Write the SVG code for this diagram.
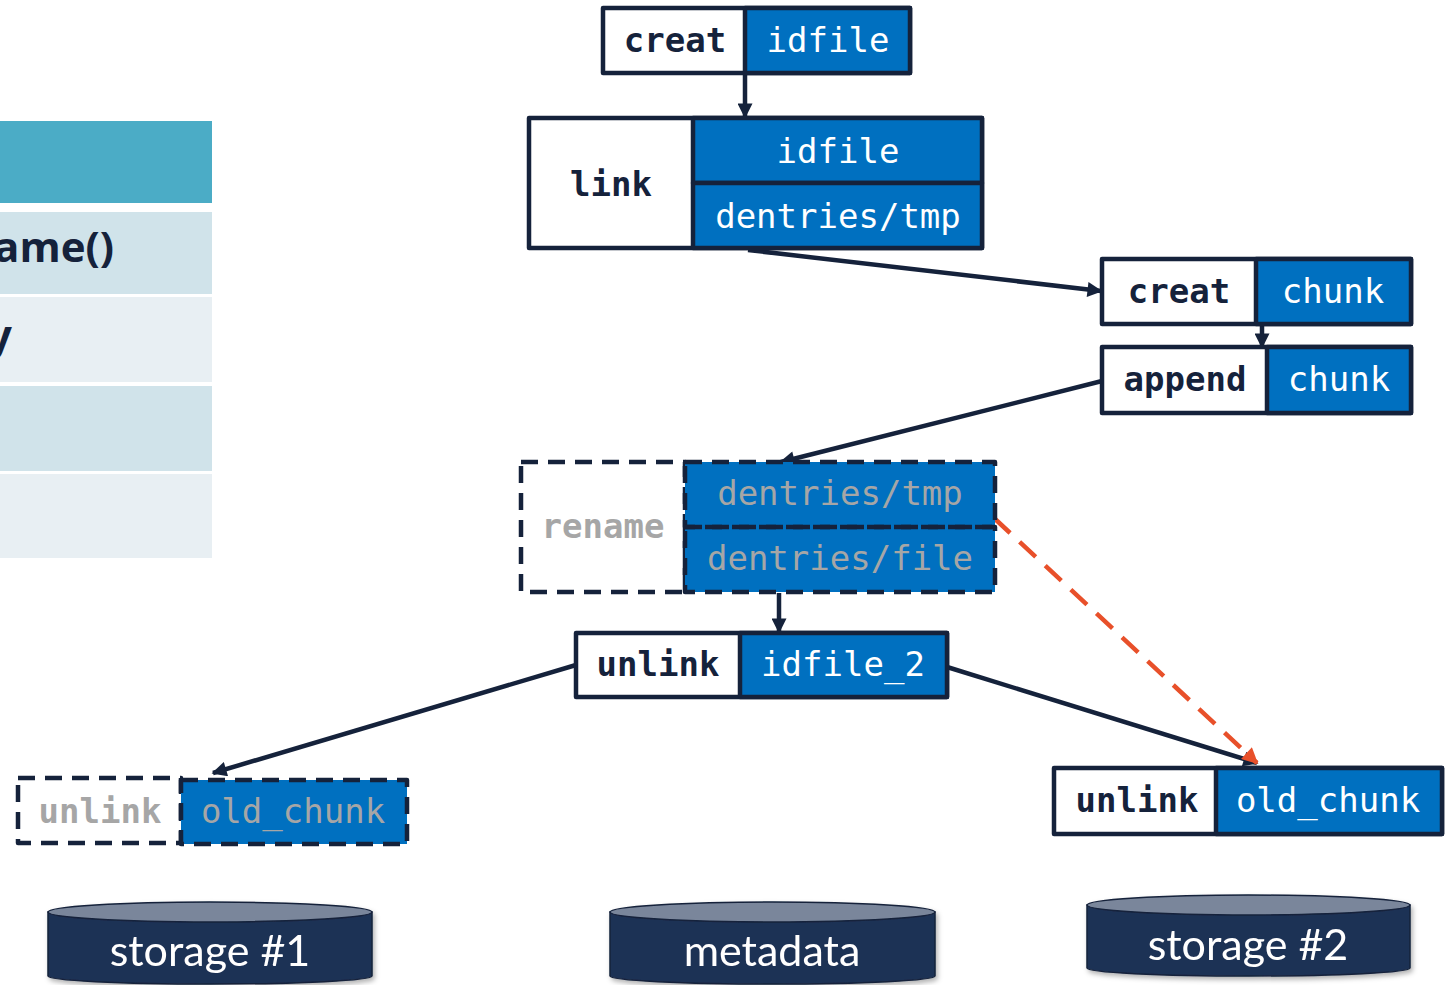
<svg xmlns="http://www.w3.org/2000/svg" width="1450" height="985" viewBox="0 0 1450 985">
  <style>
    .box { stroke: #15223B; stroke-width: 4.5; stroke-linejoin: round; }
    .white { fill: #FFFFFF; }
    .blue { fill: #0070C0; }
    .dash { stroke-dasharray: 17 10; fill: none; }
    .op { font-family: "DejaVu Sans Mono", "Liberation Mono", monospace; font-size: 34px; font-weight: bold; fill: #15223B; text-anchor: middle; }
    .arg { font-family: "DejaVu Sans Mono", "Liberation Mono", monospace; font-size: 34px; fill: #FFFFFF; text-anchor: middle; }
    .ghost { fill: #A6A6A6; }
    .conn { stroke: #15223B; stroke-width: 4.5; fill: none; }
    .red { stroke: #E8502A; stroke-width: 4.5; fill: none; stroke-dasharray: 22 13; }
    .cyl { fill: #1F3154; stroke: #15223B; stroke-width: 1.5; }
    .cyltop { fill: #7A869B; stroke: #15223B; stroke-width: 1.5; }
    .cyltext { font-family: Lato, "Open Sans", sans-serif; font-size: 43px; fill: #FFFFFF; text-anchor: middle; }
    .tbl { font-family: "Open Sans", Lato, sans-serif; font-size: 42px; font-weight: bold; fill: #15223B; text-anchor: end; }
  </style>
  <defs>
    <marker id="arrow" viewBox="0 0 10 10" refX="9" refY="5" markerUnits="userSpaceOnUse" markerWidth="16" markerHeight="15" orient="auto">
      <path d="M0,0 L10,5 L0,10 z" fill="#15223B"/>
    </marker>
    <marker id="arrowRed" viewBox="0 0 10 10" refX="9" refY="5" markerUnits="userSpaceOnUse" markerWidth="17" markerHeight="16" orient="auto">
      <path d="M0,0 L10,5 L0,10 z" fill="#E8502A"/>
    </marker>
    <filter id="shadow" x="-10%" y="-20%" width="120%" height="150%">
      <feDropShadow dx="2" dy="3" stdDeviation="2.5" flood-color="#000" flood-opacity="0.3"/>
    </filter>
  </defs>

  <!-- table fragment on the left -->
  <g id="table">
    <rect x="0" y="121" width="212" height="82" fill="#4BACC6"/>
    <rect x="0" y="212" width="212" height="82" fill="#D0E3EA"/>
    <rect x="0" y="297" width="212" height="85" fill="#E8EFF3"/>
    <rect x="0" y="386" width="212" height="85" fill="#D0E3EA"/>
    <rect x="0" y="474" width="212" height="84" fill="#E8EFF3"/>
    <text class="tbl" x="114" y="262">ame()</text>
    <text class="tbl" x="12" y="350">y</text>
  </g>

  <!-- connectors -->
  <g id="connectors">
    <path class="conn" d="M745,74 L745,117" marker-end="url(#arrow)"/>
    <path class="conn" d="M748,250 L1101,291" marker-end="url(#arrow)"/>
    <path class="conn" d="M1262,326 L1262,347" marker-end="url(#arrow)"/>
    <path class="conn" d="M1102,381 L781,462" marker-end="url(#arrow)"/>
    <path class="conn" d="M779,593 L779,632" marker-end="url(#arrow)"/>
    <path class="conn" d="M576,665 L213,773" marker-end="url(#arrow)"/>
    <path class="conn" d="M947,667 L1257,763" marker-end="url(#arrow)"/>
    <path class="red" d="M994,518 L1257,763" marker-end="url(#arrowRed)"/>
  </g>

  <!-- creat idfile -->
  <g id="creat-idfile">
    <rect class="box white" x="603" y="8" width="307" height="65"/>
    <rect class="box blue" x="745" y="8" width="165" height="65"/>
    <text class="op" x="675" y="52">creat</text>
    <text class="arg" x="828" y="52">idfile</text>
  </g>

  <!-- link idfile dentries/tmp -->
  <g id="link">
    <rect class="box white" x="529" y="118" width="453" height="130"/>
    <rect class="box blue" x="693" y="118" width="289" height="65"/>
    <rect class="box blue" x="693" y="183" width="289" height="65"/>
    <text class="op" x="611" y="196">link</text>
    <text class="arg" x="838" y="163">idfile</text>
    <text class="arg" x="838" y="228">dentries/tmp</text>
  </g>

  <!-- creat chunk -->
  <g id="creat-chunk">
    <rect class="box white" x="1102" y="259" width="309" height="65"/>
    <rect class="box blue" x="1256" y="259" width="155" height="65"/>
    <text class="op" x="1179" y="303">creat</text>
    <text class="arg" x="1333" y="303">chunk</text>
  </g>

  <!-- append chunk -->
  <g id="append-chunk">
    <rect class="box white" x="1102" y="347" width="309" height="66"/>
    <rect class="box blue" x="1267" y="347" width="144" height="66"/>
    <text class="op" x="1185" y="391">append</text>
    <text class="arg" x="1339" y="391">chunk</text>
  </g>

  <!-- rename dentries (dashed) -->
  <g id="rename">
    <rect class="box dash" x="521" y="462" width="164" height="130"/>
    <rect class="blue" x="685" y="462" width="310" height="130"/>
    <rect class="box dash" x="685" y="462" width="310" height="65"/>
    <rect class="box dash" x="685" y="527" width="310" height="65"/>
    <text class="op ghost" x="603" y="538">rename</text>
    <text class="arg ghost" x="840" y="505">dentries/tmp</text>
    <text class="arg ghost" x="840" y="570">dentries/file</text>
  </g>

  <!-- unlink idfile_2 -->
  <g id="unlink-idfile">
    <rect class="box white" x="576" y="633" width="371" height="64"/>
    <rect class="box blue" x="740" y="633" width="207" height="64"/>
    <text class="op" x="658" y="676">unlink</text>
    <text class="arg" x="843" y="676">idfile_2</text>
  </g>

  <!-- unlink old_chunk on storage #1 (dashed) -->
  <g id="unlink-old-1">
    <rect class="box dash" x="18" y="778" width="163" height="65"/>
    <rect class="blue" x="181" y="780" width="226" height="64"/>
    <rect class="box dash" x="181" y="780" width="226" height="64"/>
    <text class="op ghost" x="100" y="823">unlink</text>
    <text class="arg ghost" x="293" y="823">old_chunk</text>
  </g>

  <!-- unlink old_chunk on storage #2 -->
  <g id="unlink-old-2">
    <rect class="box white" x="1054" y="768" width="388" height="66"/>
    <rect class="box blue" x="1216" y="768" width="226" height="66"/>
    <text class="op" x="1137" y="812">unlink</text>
    <text class="arg" x="1328" y="812">old_chunk</text>
  </g>

  <!-- storage cylinders -->
  <g id="storage-1" filter="url(#shadow)">
    <path class="cyl" d="M48,912 L48,976 A162,8 0 0 0 372,976 L372,912 Z"/>
    <ellipse class="cyltop" cx="210" cy="912" rx="162" ry="10"/>
    <text class="cyltext" x="210" y="966">storage #1</text>
  </g>
  <g id="metadata" filter="url(#shadow)">
    <path class="cyl" d="M610,912 L610,976 A162.5,8 0 0 0 935,976 L935,912 Z"/>
    <ellipse class="cyltop" cx="772.5" cy="912" rx="162.5" ry="10"/>
    <text class="cyltext" x="772" y="966">metadata</text>
  </g>
  <g id="storage-2" filter="url(#shadow)">
    <path class="cyl" d="M1087,905 L1087,968 A161.5,8 0 0 0 1410,968 L1410,905 Z"/>
    <ellipse class="cyltop" cx="1248.5" cy="905" rx="161.5" ry="10"/>
    <text class="cyltext" x="1248" y="960">storage #2</text>
  </g>
</svg>
